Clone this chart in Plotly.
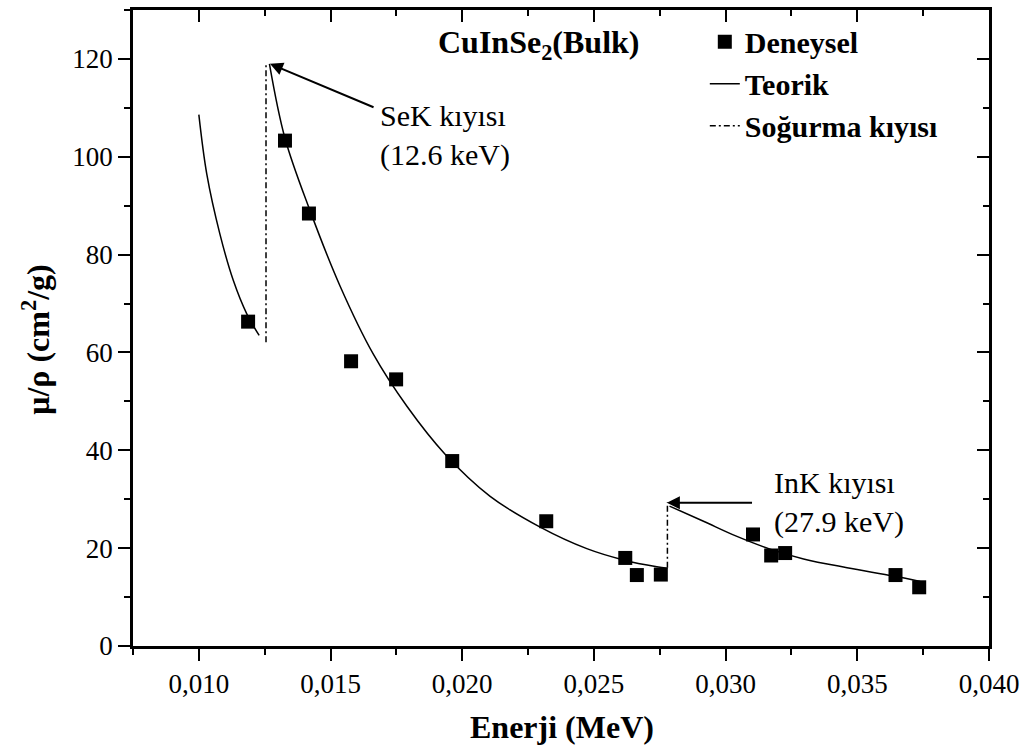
import plotly.graph_objects as go

# Experimental data (Deneysel)
exp_energy = [0.01187, 0.01327, 0.01418, 0.01578, 0.01749, 0.01962, 0.02319,
              0.02619, 0.02663, 0.02754, 0.03104, 0.03173, 0.03226, 0.03645, 0.03735]
exp_mu = [66.3, 103.3, 88.4, 58.2, 54.5, 37.8, 25.5,
          18.0, 14.5, 14.6, 22.8, 18.5, 19.0, 14.5, 12.0]

# Theoretical curve (Teorik), three branches separated by absorption edges
theo_energy = [0.0100, 0.01030, 0.01080, 0.01131, 0.01182, 0.01229, None,
               0.01268, 0.01327, 0.01420, 0.01536, 0.01663, 0.01790, 0.01935,
               0.02106, 0.02296, 0.02473, 0.02612, 0.02739, 0.02779, None,
               0.02787, 0.02916, 0.03043, 0.03169, 0.03296, 0.03461, 0.03638, 0.03739]
theo_mu = [108.6, 96.5, 84.2, 74.7, 67.9, 63.5, None,
           119.0, 103.8, 89.3, 73.6, 59.6, 49.0, 39.2,
           30.6, 24.3, 19.9, 17.6, 16.2, 15.9, None,
           28.6, 25.5, 22.4, 19.8, 17.8, 16.0, 14.3, 13.2]

# Absorption edges (Soğurma kıyısı)
edge_energy = [0.01255, 0.01255, None, 0.02779, 0.02779]
edge_mu = [62.1, 119.2, None, 16.0, 29.4]

x_range = [0.0075, 0.040]
y_range = [0, 130]

FONT = "Liberation Serif, Times New Roman, serif"

fig = go.Figure()
fig.add_trace(go.Scatter(x=exp_energy, y=exp_mu, mode="markers", name="<b>Deneysel</b>",
                         marker=dict(symbol="square", size=14, color="black")))
fig.add_trace(go.Scatter(x=theo_energy, y=theo_mu, mode="lines", name="<b>Teorik</b>",
                         line=dict(color="black", width=1.5, shape="spline", smoothing=1.0),
                         connectgaps=False))
fig.add_trace(go.Scatter(x=edge_energy, y=edge_mu, mode="lines", name="<b>Soğurma kıyısı</b>",
                         line=dict(color="black", width=1.5, dash="6px,3px,2px,3px"),
                         connectgaps=False))
# invisible trace to anchor mirrored (inside-tick) axes
fig.add_trace(go.Scatter(x=exp_energy, y=exp_mu, xaxis="x2", yaxis="y2", mode="markers",
                         marker=dict(opacity=0), showlegend=False, hoverinfo="skip"))

common_tick = dict(tickcolor="black", tickwidth=2, ticklen=12, showgrid=False, zeroline=False)

fig.update_layout(
    width=1031, height=751,
    margin=dict(l=133, r=42, t=7, b=105),
    paper_bgcolor="white", plot_bgcolor="white",
    separators=", ",
    font=dict(family=FONT, size=27, color="black"),
    xaxis=dict(range=x_range, tick0=0.010, dtick=0.005, tickformat=".3f",
               ticks="outside", showline=True, linecolor="black", linewidth=2.7,
               mirror=True, tickfont=dict(size=27),
               minor=dict(dtick=0.0025, tick0=0.0075, ticks="outside", ticklen=6,
                          tickwidth=2, tickcolor="black"),
               **common_tick),
    yaxis=dict(range=y_range, tick0=0, dtick=20,
               ticks="outside", showline=True, linecolor="black", linewidth=2.7,
               mirror=True, tickfont=dict(size=27),
               minor=dict(dtick=10, ticks="outside", ticklen=6, tickwidth=2,
                          tickcolor="black"),
               **common_tick),
    xaxis2=dict(range=x_range, overlaying="x", side="top", anchor="y2",
                tick0=0.010, dtick=0.005, ticks="inside", showticklabels=False,
                showline=False,
                minor=dict(dtick=0.0025, tick0=0.0075, ticks="inside", ticklen=6,
                           tickwidth=2, tickcolor="black"),
                **common_tick),
    yaxis2=dict(range=y_range, overlaying="y", side="right", anchor="x2",
                tick0=0, dtick=20, ticks="inside", showticklabels=False,
                showline=False,
                minor=dict(dtick=10, ticks="inside", ticklen=6, tickwidth=2,
                           tickcolor="black"),
                **common_tick),
    legend=dict(x=0.668, y=0.991, xanchor="left", yanchor="top",
                bgcolor="rgba(0,0,0,0)", font=dict(family=FONT, size=30, color="black"),
                tracegroupgap=0, itemwidth=30),
    showlegend=True,
)

annotations = [
    # axis titles
    dict(text="<b>Enerji (MeV)</b>", xref="paper", yref="paper", x=0.5006, y=-0.127,
         xanchor="center", yanchor="middle", showarrow=False,
         font=dict(family=FONT, size=32, color="black")),
    dict(text="<b>μ/ρ (cm<sup>2</sup>/g)</b>", xref="paper", yref="paper", x=-0.113, y=0.482,
         xanchor="center", yanchor="middle", textangle=-90, showarrow=False,
         font=dict(family=FONT, size=32, color="black")),
    # chart label
    dict(text="<b>CuInSe<sub>2</sub>(Bulk)</b>", xref="x", yref="y", x=0.02292, y=123.0,
         xanchor="center", yanchor="middle", showarrow=False,
         font=dict(family=FONT, size=32, color="black")),
    # SeK edge arrow
    dict(text="", x=0.01270, y=119.0, ax=0.01669, ay=110.0, xref="x", yref="y",
         axref="x", ayref="y", showarrow=True, arrowhead=2, arrowsize=1.3,
         arrowwidth=2, arrowcolor="black", standoff=0, startstandoff=0),
    dict(text="SeK kıyısı<br>(12.6 keV)", xref="x", yref="y", x=0.0168, y=104.3,
         xanchor="left", yanchor="middle", align="left", showarrow=False,
         font=dict(family=FONT, size=30, color="black")),
    # InK edge arrow
    dict(text="", x=0.02777, y=29.3, ax=0.03106, ay=29.3, xref="x", yref="y",
         axref="x", ayref="y", showarrow=True, arrowhead=2, arrowsize=1.3,
         arrowwidth=2, arrowcolor="black", standoff=0, startstandoff=0),
    dict(text="InK kıyısı<br>(27.9 keV)", xref="x", yref="y", x=0.03176, y=29.3,
         xanchor="left", yanchor="middle", align="left", showarrow=False,
         font=dict(family=FONT, size=30, color="black")),
]
fig.update_layout(annotations=annotations)

fig.write_html("out.html")
